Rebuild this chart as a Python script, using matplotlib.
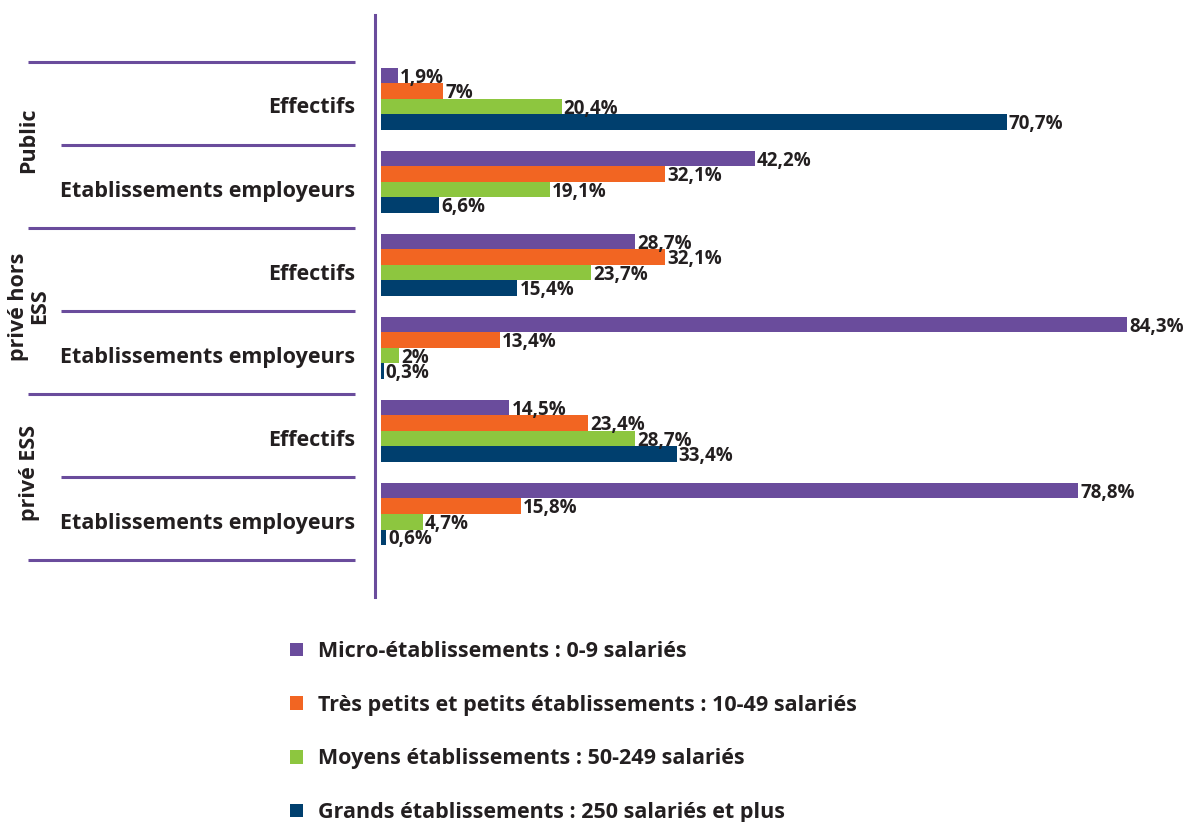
import numpy as np
import matplotlib
matplotlib.use("Agg")
import matplotlib.pyplot as plt
import matplotlib.transforms as mtransforms

plt.rcParams['font.family'] = ['Open Sans', 'DejaVu Sans']
plt.rcParams['font.weight'] = 'bold'

# ---------------------------------------------------------------
rows      = ['Effectifs', 'Etablissements employeurs'] * 3
sectors   = ['Public', 'privé hors\nESS', 'privé ESS']
series    = ['Micro-établissements : 0-9 salariés',
             'Très petits et petits établissements : 10-49 salariés',
             'Moyens établissements : 50-249 salariés',
             'Grands établissements : 250 salariés et plus']
micro     = [1.9, 42.2, 28.7, 84.3, 14.5, 78.8]
petits    = [7, 32.1, 32.1, 13.4, 23.4, 15.8]
moyens    = [20.4, 19.1, 23.7, 2, 28.7, 4.7]
grands    = [70.7, 6.6, 15.4, 0.3, 33.4, 0.6]
values    = [micro, petits, moyens, grands]
colors    = ['#6A4C9C', '#F26522', '#8DC63F', '#003F6E']
LineColor = '#6A4C9C'
TextColor = '#231F20'
# ---------------------------------------------------------------

W, H = 1190, 822
fig = plt.figure(figsize=(W/100, H/100), dpi=100)
ax = fig.add_axes([375/W, 225/H, (W-375)/W, 582/H])

y = np.arange(len(rows))
bh = 0.187
bars = []
for k, (vals, c) in enumerate(zip(values, colors)):
    yk = y + (k-1.5)*bh
    b = ax.barh(yk, vals, height=bh, color=c, label=series[k])
    for v, yy in zip(vals, yk):
        txt = ('%g' % v).replace('.', ',') + '%'
        ax.annotate(txt, (v, yy), xytext=(1.5, -1.5), textcoords='offset points',
                    ha='left', va='center', fontsize=13.5, fontweight='bold',
                    color=TextColor)
    bars.append(b)

ax.set_xlim(-0.68, 91.4)
ax.set_ylim(6.0, -1.01)
for s in ['top', 'right', 'bottom']:
    ax.spines[s].set_visible(False)
ax.spines['left'].set_color(LineColor)
ax.spines['left'].set_linewidth(2.2)
ax.set_xticks([])
ax.set_yticks([])

# left-hand labels and separators
blend = mtransforms.blended_transform_factory(fig.transFigure, ax.transData)
for i, r in enumerate(rows):
    ax.text(355/W, i + 0.11, r, transform=blend, ha='right', va='center',
            fontsize=15.5, fontweight='bold', color=TextColor)

for k in range(len(rows) + 1):
    ys = k - 0.44
    x0 = 28/W if k % 2 == 0 else 61/W
    ax.plot([x0, 355/W], [ys, ys], transform=blend, color=LineColor,
            lw=2.2, clip_on=False, solid_capstyle='butt')

for j, s in enumerate(sectors):
    ax.text(29/W, 2*j + 0.5, s, transform=blend, rotation=90,
            ha='center', va='center', fontsize=15.5, fontweight='bold',
            color=TextColor, linespacing=1.05, multialignment='center')

fig.legend(handles=bars, loc='upper left', bbox_to_anchor=(290/W, 1 - 641/H),
           frameon=False, fontsize=15.5, handlelength=0.6, handleheight=0.6,
           handletextpad=0.7, labelspacing=1.52, labelcolor=TextColor,
           borderaxespad=0, borderpad=0)

fig.savefig('out.png', dpi=100)
